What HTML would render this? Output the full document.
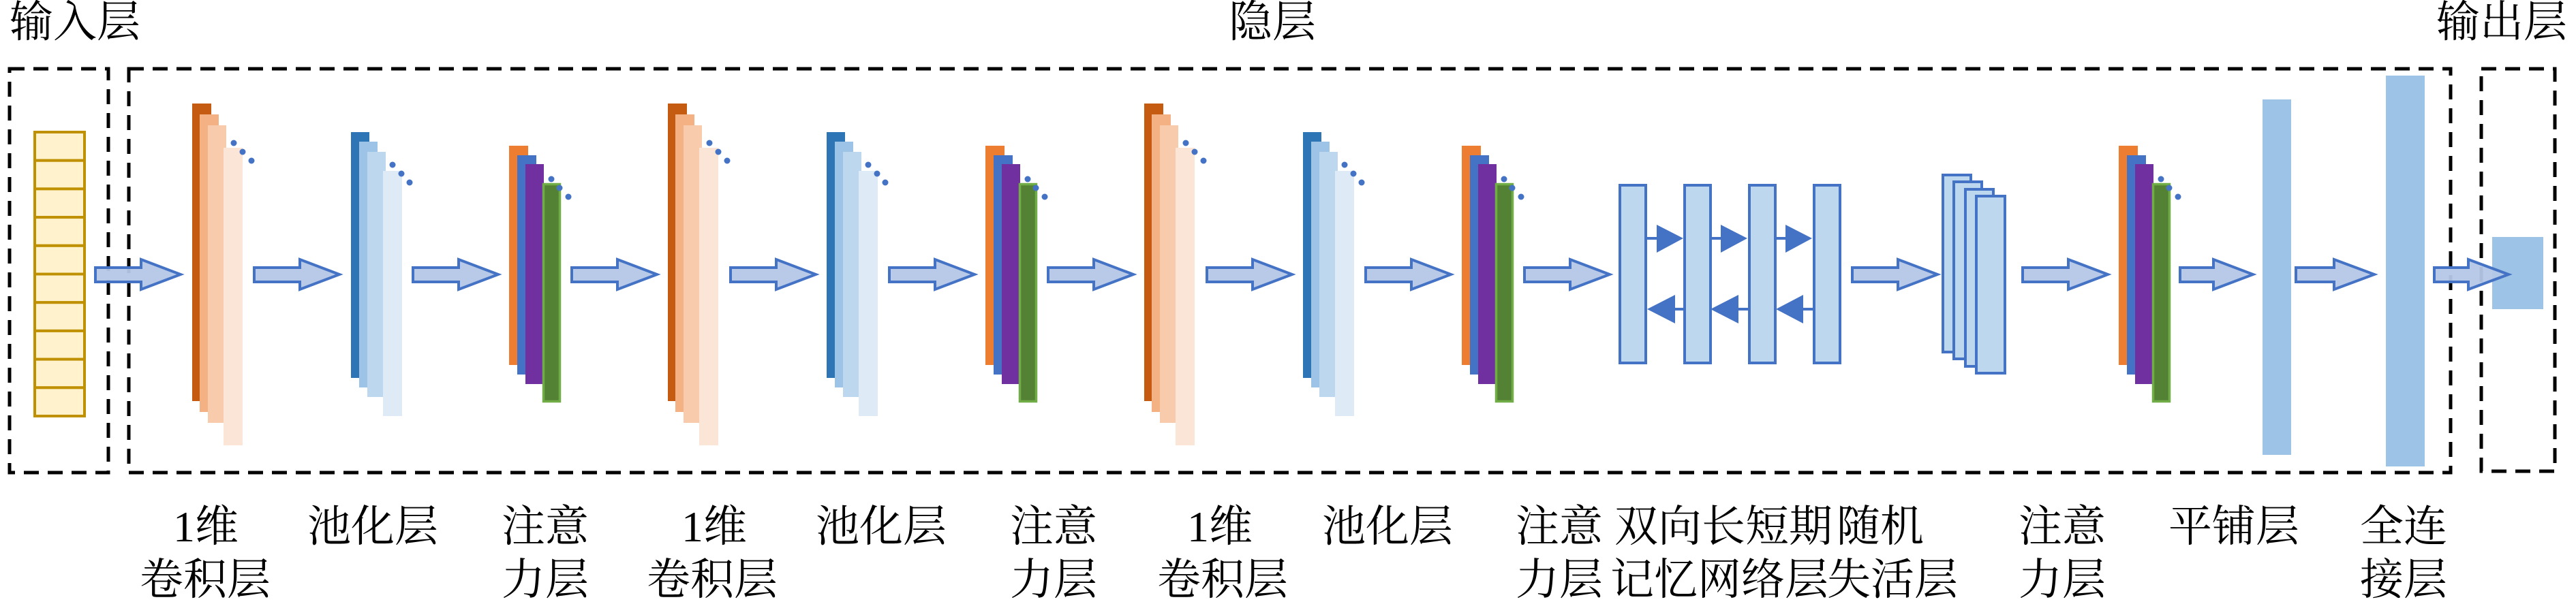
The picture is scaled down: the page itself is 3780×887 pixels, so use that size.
<!DOCTYPE html>
<html><head><meta charset="utf-8">
<style>
html,body{margin:0;padding:0;background:#fff;}
body{width:3780px;height:882px;overflow:hidden;}
svg text{font-family:"Liberation Serif","Noto Serif CJK SC",serif;font-size:64px;fill:#000;}
</style></head>
<body>
<svg width="3780" height="882" viewBox="0 0 3780 882" xmlns="http://www.w3.org/2000/svg">
<g fill="none" stroke="#000" stroke-width="5" stroke-dasharray="22 13">
<rect x="14" y="101" width="145" height="593"/>
<rect x="189" y="101" width="3407" height="593"/>
<rect x="3641" y="101" width="108" height="591"/>
</g>
<text x="14" y="54">输入层</text>
<text x="1803" y="54">隐层</text>
<text x="3575" y="54">输出层</text>

<g fill="#FFF2CC" stroke="#BF9000" stroke-width="4">
<rect x="51" y="194" width="73" height="41.7"/>
<rect x="51" y="235.7" width="73" height="41.7"/>
<rect x="51" y="277.4" width="73" height="41.7"/>
<rect x="51" y="319.1" width="73" height="41.7"/>
<rect x="51" y="360.8" width="73" height="41.7"/>
<rect x="51" y="402.5" width="73" height="41.7"/>
<rect x="51" y="444.2" width="73" height="41.7"/>
<rect x="51" y="485.9" width="73" height="41.7"/>
<rect x="51" y="527.6" width="73" height="41.7"/>
<rect x="51" y="569.3" width="73" height="41.7"/>
</g>

<g id="conv">
<rect x="282" y="152" width="28" height="437" fill="#C55A11"/>
<rect x="293" y="168" width="28" height="437" fill="#F4B183"/>
<rect x="305" y="184" width="27" height="437" fill="#F8CBAD"/>
<rect x="328" y="217" width="28" height="437" fill="#FBE5D6"/>
<circle cx="343" cy="210" r="4.5" fill="#4472C4"/>
<circle cx="356" cy="223" r="4.5" fill="#4472C4"/>
<circle cx="369" cy="236" r="4.5" fill="#4472C4"/>
</g>
<use href="#conv" x="698"/>
<use href="#conv" x="1397"/>

<g id="pool">
<rect x="515" y="194" width="27" height="361" fill="#2E75B6"/>
<rect x="527" y="208" width="27" height="361" fill="#9DC3E6"/>
<rect x="539" y="223" width="27" height="360" fill="#BDD7EE"/>
<rect x="562" y="251" width="28" height="360" fill="#DEEBF7"/>
<circle cx="576" cy="242" r="4.5" fill="#4472C4"/>
<circle cx="589" cy="255" r="4.5" fill="#4472C4"/>
<circle cx="601" cy="268" r="4.5" fill="#4472C4"/>
</g>
<use href="#pool" x="698"/>
<use href="#pool" x="1397"/>

<g id="attn">
<rect x="747" y="214" width="28" height="322" fill="#ED7D31"/>
<rect x="759" y="228" width="28" height="322" fill="#4472C4"/>
<rect x="771" y="241" width="27" height="323" fill="#7030A0"/>
<rect x="797.5" y="270.5" width="24" height="319" fill="#548235" stroke="#70AD47" stroke-width="3.5"/>
<circle cx="809" cy="263" r="4.5" fill="#4472C4"/>
<circle cx="821" cy="276" r="4.5" fill="#4472C4"/>
<circle cx="834" cy="289" r="4.5" fill="#4472C4"/>
</g>
<use href="#attn" x="699"/>
<use href="#attn" x="1398"/>
<use href="#attn" x="2362"/>

<g fill="#BDD7EE" stroke="#4472C4" stroke-width="4">
<rect x="2377" y="272" width="38" height="261"/>
<rect x="2472" y="272" width="38" height="261"/>
<rect x="2567" y="272" width="38" height="261"/>
<rect x="2662" y="272" width="38" height="261"/>
</g>
<g stroke="#4472C4" stroke-width="4">
<line x1="2415" y1="350" x2="2432" y2="350"/>
<line x1="2510" y1="350" x2="2526" y2="350"/>
<line x1="2605" y1="350" x2="2621" y2="350"/>
<line x1="2457" y1="454" x2="2472" y2="454"/>
<line x1="2550" y1="454" x2="2567" y2="454"/>
<line x1="2645" y1="454" x2="2662" y2="454"/>
</g>
<g fill="#4472C4">
<polygon points="2431,330 2470,350 2431,371"/>
<polygon points="2525,330 2564,350 2525,371"/>
<polygon points="2620,330 2659,350 2620,371"/>
<polygon points="2458,433 2417,454 2458,475"/>
<polygon points="2551,433 2510,454 2551,475"/>
<polygon points="2646,433 2606,454 2646,475"/>
</g>

<g fill="#BDD7EE" stroke="#4472C4" stroke-width="4">
<rect x="2851" y="257" width="41" height="260"/>
<rect x="2867" y="267" width="41" height="260"/>
<rect x="2884" y="278" width="41" height="260"/>
<rect x="2900" y="288" width="42" height="260"/>
</g>

<rect x="3320" y="146" width="42" height="522" fill="#9DC3E6"/>
<rect x="3501" y="111" width="57" height="574" fill="#9DC3E6"/>
<rect x="3657" y="348" width="75" height="106" fill="#9DC3E6"/>

<g fill="#B4C7E7" fill-opacity="0.95" stroke="#4472C4" stroke-width="4" stroke-linejoin="miter">
<path id="ar" d="M140,393 H207 V381 L265,403 L207,425 V414 H140 Z"/>
<use href="#ar" x="233"/>
<use href="#ar" x="466"/>
<use href="#ar" x="699"/>
<use href="#ar" x="932"/>
<use href="#ar" x="1165"/>
<use href="#ar" x="1398"/>
<use href="#ar" x="1631"/>
<use href="#ar" x="1864"/>
<use href="#ar" x="2097"/>
<use href="#ar" x="2578"/>
<use href="#ar" x="2828"/>
<path d="M3199,393 H3248 V381 L3306,403 L3248,425 V414 H3199 Z"/>
<path d="M3369,393 H3425 V381 L3484,403 L3425,425 V414 H3369 Z"/>
<path d="M3572,393 H3622 V381 L3681,403 L3622,425 V414 H3572 Z"/>
</g>

<g text-anchor="middle">
<text x="302" y="795">1维</text><text x="301" y="873">卷积层</text>
<text x="547" y="795">池化层</text>
<text x="800" y="795">注意</text><text x="800" y="873">力层</text>
<text x="1048" y="795">1维</text><text x="1045" y="873">卷积层</text>
<text x="1293" y="795">池化层</text>
<text x="1546" y="795">注意</text><text x="1546" y="873">力层</text>
<text x="1790" y="795">1维</text><text x="1794" y="873">卷积层</text>
<text x="2036" y="795">池化层</text>
<text x="2288" y="795">注意</text><text x="2288" y="873">力层</text>
<text x="2529" y="795">双向长短期</text><text x="2523" y="873">记忆网络层</text>
<text x="2759" y="795">随机</text><text x="2777" y="873">失活层</text>
<text x="3026" y="795">注意</text><text x="3026" y="873">力层</text>
<text x="3278" y="795">平铺层</text>
<text x="3527" y="795">全连</text><text x="3527" y="873">接层</text>
</g>
</svg>
</body></html>
